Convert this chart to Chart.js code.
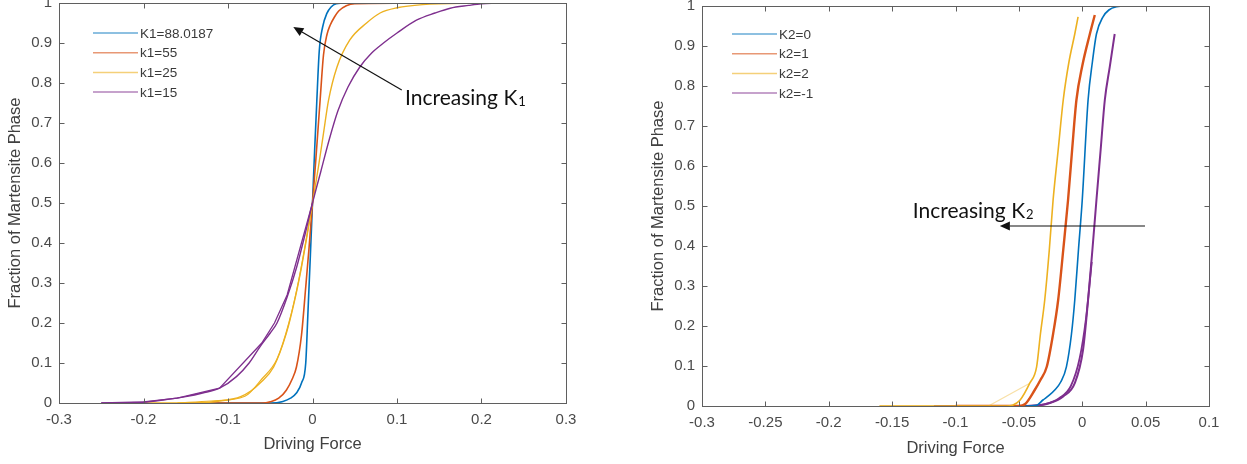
<!DOCTYPE html>
<html>
<head>
<meta charset="utf-8">
<script src="https://cdn.jsdelivr.net/npm/chart.js@4.4.1/dist/chart.umd.min.js"></script>
<style>
  html, body { margin: 0; padding: 0; background: #fff; }
  #wrap { position: relative; width: 1247px; height: 464px; overflow: hidden; }
  #c1 { position: absolute; left: 0; top: 0; }
  #c2 { position: absolute; left: 620px; top: 0; }
</style>
</head>
<body>
<div id="wrap">
  <canvas id="c1" width="620" height="464"></canvas>
  <canvas id="c2" width="627" height="464"></canvas>
</div>
<script>
// ---- data ----
const leftLabels = ["K1=88.0187", "k1=55", "k1=25", "k1=15"];
const rightLabels = ["K2=0", "k2=1", "k2=2", "k2=-1"];

// left panel (varying K1)
const k1aX = [-0.12, -0.05, -0.035, -0.026, -0.019, -0.013, -0.008, -0.0055, -0.0025, 0, 0.0025, 0.005, 0.008, 0.012, 0.017, 0.022, 0.028, 0.04, 0.12];
const k1aY = [0, 0, 0.004, 0.012, 0.025, 0.05, 0.1, 0.22, 0.37, 0.5, 0.63, 0.75, 0.88, 0.94, 0.974, 0.99, 0.998, 1, 1];

const k1bX = [-0.15, -0.06, -0.05, -0.04, -0.031, -0.024, -0.019, -0.013, -0.008, -0.004, 0, 0.004, 0.009, 0.013, 0.017, 0.021, 0.026, 0.031, 0.04, 0.05, 0.15];
const k1bY = [0, 0, 0.003, 0.012, 0.032, 0.06, 0.09, 0.17, 0.29, 0.39, 0.5, 0.61, 0.757, 0.87, 0.92, 0.945, 0.965, 0.98, 0.993, 0.998, 1];

const k1cX = [-0.2, -0.13, -0.11, -0.095, -0.085, -0.073, -0.062, -0.046, -0.031, -0.021, -0.013, -0.006, 0, 0.007, 0.013, 0.019, 0.029, 0.044, 0.064, 0.08, 0.1, 0.13, 0.2];
const k1cY = [0, 0.001, 0.005, 0.01, 0.016, 0.03, 0.05, 0.09, 0.174, 0.258, 0.34, 0.424, 0.5, 0.59, 0.674, 0.757, 0.84, 0.907, 0.95, 0.975, 0.988, 0.996, 1];
// second (coarse) yellow trace
const k1c2X = [-0.16, -0.12, -0.08, -0.06, -0.042, -0.028, -0.016, 0];
const k1c2Y = [0, 0.005, 0.017, 0.06, 0.11, 0.2, 0.31, 0.5];

const k1dX = [-0.25, -0.2, -0.175, -0.15, -0.13, -0.11, -0.09, -0.075, -0.062, -0.05, -0.042, -0.03, -0.0187, -0.009, 0, 0.01, 0.02, 0.03, 0.042, 0.056, 0.07, 0.084, 0.1, 0.123, 0.145, 0.163, 0.185, 0.2, 0.218];
const k1dY = [0, 0.002, 0.008, 0.016, 0.025, 0.037, 0.066, 0.1, 0.141, 0.175, 0.2, 0.265, 0.34, 0.42, 0.5, 0.58, 0.66, 0.73, 0.79, 0.84, 0.875, 0.9, 0.925, 0.957, 0.975, 0.987, 0.994, 0.998, 1];
// second (coarse) purple trace
const k1d2X = [-0.25, -0.2, -0.16, -0.11, -0.06, -0.045, -0.03, 0];
const k1d2Y = [0, 0.003, 0.012, 0.037, 0.15, 0.2, 0.27, 0.5];

// right panel (varying K2)
const k2aX = [-0.06, -0.045, -0.036, -0.031, -0.026, -0.0217, -0.017, -0.0125, -0.0085, -0.0059, -0.003, 0, 0.0046, 0.008, 0.0112, 0.0164, 0.021, 0.027, 0.035, 0.045, 0.0586];
const k2aY = [0, 0, 0.002, 0.015, 0.027, 0.04, 0.06, 0.098, 0.18, 0.265, 0.39, 0.515, 0.765, 0.86, 0.93, 0.973, 0.99, 0.998, 1, 1, 1];

const k2bX = [-0.1, -0.05, -0.045, -0.0375, -0.033, -0.028, -0.023, -0.019, -0.015, -0.0112, -0.008, -0.0046, 0, 0.006, 0.0099];
const k2bY = [0, 0, 0.005, 0.04, 0.065, 0.098, 0.18, 0.265, 0.39, 0.515, 0.64, 0.765, 0.85, 0.93, 0.9775];

const k2cX = [-0.16, -0.06, -0.055, -0.049, -0.0414, -0.036, -0.033, -0.0296, -0.026, -0.023, -0.019, -0.015, -0.0105, -0.0059, -0.0033];
const k2cY = [0, 0, 0.002, 0.015, 0.057, 0.098, 0.18, 0.265, 0.39, 0.515, 0.64, 0.765, 0.86, 0.93, 0.973];
// faint coarse yellow trace
const k2c2X = [-0.16, -0.074, -0.0414];
const k2c2Y = [0, 0, 0.057];

const k2dX = [-0.117, -0.045, -0.036, -0.0256, -0.015, -0.0059, 0.0006, 0.0046, 0.008, 0.0112, 0.0145, 0.0178, 0.0217, 0.0256];
const k2dY = [0, 0, 0.001, 0.0075, 0.024, 0.057, 0.14, 0.265, 0.39, 0.515, 0.64, 0.765, 0.848, 0.93];
// extra purple trace in the thick lower part
const k2d2X = [-0.045, -0.03, -0.018, -0.009, -0.002, 0.003, 0.0075];
const k2d2Y = [0, 0.004, 0.02, 0.05, 0.12, 0.22, 0.36];

const colors = ["#0072BD", "#D95319", "#EDB120", "#7E2F8E"];
const tickColor = "#4a4a4a";
const axisColor = "#5f5f5f";
const tickFont = { family: "Liberation Sans, Arial, sans-serif", size: 15 };
const titleFont = { family: "Liberation Sans, Arial, sans-serif", size: 16.5 };

function pts(xs, ys) {
  return xs.map((x, i) => ({ x, y: ys[i] }));
}

function line(xs, ys, color, width, smooth = true) {
  return {
    data: pts(xs, ys),
    borderColor: color,
    borderWidth: width,
    pointRadius: 0,
    fill: false,
    cubicInterpolationMode: smooth ? "monotone" : "default",
    tension: 0,
  };
}

// MATLAB-like tick text: 1, 0.9, -0.3, 0.05
function tickText(v) {
  return String(parseFloat(Number(v).toFixed(3)));
}

// box + inward ticks on all four sides, MATLAB style
const framePlugin = {
  id: "frame",
  afterDatasetsDraw(chart) {
    const { ctx, chartArea: a, scales: { x, y } } = chart;
    ctx.save();
    ctx.strokeStyle = axisColor;
    ctx.lineWidth = 1;
    const L = Math.round(a.left) + 0.5, R = Math.round(a.right) + 0.5;
    const T = Math.round(a.top) + 0.5, B = Math.round(a.bottom) + 0.5;
    ctx.strokeRect(L, T, R - L, B - T);
    ctx.beginPath();
    x.ticks.forEach((t) => {
      const px = Math.round(x.getPixelForValue(t.value)) + 0.5;
      ctx.moveTo(px, B); ctx.lineTo(px, B - 5);
      ctx.moveTo(px, T); ctx.lineTo(px, T + 5);
    });
    y.ticks.forEach((t) => {
      const py = Math.round(y.getPixelForValue(t.value)) + 0.5;
      ctx.moveTo(L, py); ctx.lineTo(L + 5, py);
      ctx.moveTo(R, py); ctx.lineTo(R - 5, py);
    });
    ctx.stroke();
    ctx.restore();
  },
};

// legend inside the axes, no box
const legendPlugin = {
  id: "boxLegend",
  afterDatasetsDraw(chart, args, opts) {
    const { ctx, chartArea: a } = chart;
    ctx.save();
    ctx.font = "13.5px Liberation Sans, Arial, sans-serif";
    ctx.textBaseline = "middle";
    opts.labels.forEach((lab, i) => {
      const yy = a.top + opts.dy + i * 19.7;
      ctx.strokeStyle = colors[i];
      ctx.globalAlpha = 0.6;
      ctx.lineWidth = 1.5;
      ctx.beginPath();
      ctx.moveTo(a.left + opts.dx, yy);
      ctx.lineTo(a.left + opts.dx + 45, yy);
      ctx.stroke();
      ctx.globalAlpha = 1;
      ctx.fillStyle = "#3a3a3a";
      ctx.fillText(lab, a.left + opts.dx + 47, yy + 1);
    });
    ctx.restore();
  },
};

// "Increasing K" text + arrow, placed in data coordinates
const notePlugin = {
  id: "note",
  afterDatasetsDraw(chart, args, o) {
    const { ctx, scales: { x, y } } = chart;
    ctx.save();
    const fam = "Lato, 'Open Sans', sans-serif";
    ctx.font = o.size + "px " + fam;
    ctx.fillStyle = "#111";
    ctx.textBaseline = "alphabetic";
    const tx = x.getPixelForValue(o.textAt[0]);
    const ty = y.getPixelForValue(o.textAt[1]);
    ctx.fillText("Increasing K", tx, ty);
    const w = ctx.measureText("Increasing K").width;
    ctx.font = Math.round(o.size * 0.62) + "px " + fam;
    ctx.fillText(o.sub, tx + w + 1, ty + 1);

    const x0 = x.getPixelForValue(o.from[0]), y0 = y.getPixelForValue(o.from[1]);
    const x1 = x.getPixelForValue(o.to[0]), y1 = y.getPixelForValue(o.to[1]);
    const ang = Math.atan2(y1 - y0, x1 - x0);
    const hl = 10, hw = 4.5;
    const bx = x1 - hl * Math.cos(ang), by = y1 - hl * Math.sin(ang);
    ctx.strokeStyle = "#111";
    ctx.lineWidth = 1.2;
    ctx.beginPath();
    ctx.moveTo(x0, y0);
    ctx.lineTo(bx, by);
    ctx.stroke();
    ctx.fillStyle = "#111";
    ctx.beginPath();
    ctx.moveTo(x1, y1);
    ctx.lineTo(bx + hw * Math.sin(ang), by - hw * Math.cos(ang));
    ctx.lineTo(bx - hw * Math.sin(ang), by + hw * Math.cos(ang));
    ctx.closePath();
    ctx.fill();
    ctx.restore();
  },
};

function scales(o) {
  return {
    x: {
      type: "linear",
      min: o.xMin,
      max: o.xMax,
      afterFit: (s) => { s.height = o.xAxisH; s.paddingLeft = 0; s.paddingRight = 0; },
      grid: { display: false, drawTicks: false },
      border: { display: false },
      ticks: { stepSize: o.xStep, padding: 8, color: tickColor, font: tickFont, maxRotation: 0, autoSkip: false, callback: tickText },
      title: { display: true, text: "Driving Force", color: "#404040", font: titleFont, padding: { top: 0, bottom: o.xTitlePad } },
    },
    y: {
      type: "linear",
      min: 0,
      max: 1,
      afterFit: (s) => { s.width = o.yAxisW; s.paddingTop = 0; s.paddingBottom = 0; },
      grid: { display: false, drawTicks: false },
      border: { display: false },
      ticks: { stepSize: 0.1, padding: 7, color: tickColor, font: tickFont, callback: tickText },
      title: { display: true, text: "Fraction of Martensite Phase", color: "#404040", font: titleFont, padding: { top: o.yTitlePad, bottom: 0 } },
    },
  };
}

Chart.defaults.animation = false;

new Chart(document.getElementById("c1"), {
  type: "line",
  data: {
    datasets: [
      line(k1d2X, k1d2Y, colors[3], 1.3, false),
      line(k1dX, k1dY, colors[3], 1.4),
      line(k1c2X, k1c2Y, colors[2], 1.2),
      line(k1cX, k1cY, colors[2], 1.4),
      line(k1bX, k1bY, colors[1], 1.6),
      line(k1aX, k1aY, colors[0], 1.6),
    ],
  },
  options: {
    responsive: false,
    layout: { padding: { left: 0, right: 54, top: 3, bottom: 0 } },
    scales: scales({ xMin: -0.3, xMax: 0.3, xStep: 0.1, xAxisH: 61, yAxisW: 59, xTitlePad: 10, yTitlePad: 6 }),
    plugins: {
      legend: { display: false },
      tooltip: { enabled: false },
      boxLegend: { labels: leftLabels, dx: 34, dy: 30 },
      note: { size: 21, sub: "1", textAt: [0.1095, 0.745], from: [0.1056, 0.7825], to: [-0.0227, 0.94] },
    },
  },
  plugins: [framePlugin, legendPlugin, notePlugin],
});

new Chart(document.getElementById("c2"), {
  type: "line",
  data: {
    datasets: [
      line(k2c2X, k2c2Y, "rgba(237,177,32,0.4)", 1.2, false),
      line(k2cX, k2cY, colors[2], 1.6),
      line(k2bX, k2bY, colors[1], 2.4),
      line(k2aX, k2aY, colors[0], 1.6),
      line(k2d2X, k2d2Y, colors[3], 1.8),
      line(k2dX, k2dY, colors[3], 2),
    ],
  },
  options: {
    responsive: false,
    layout: { padding: { left: 0, right: 38, top: 6, bottom: 0 } },
    scales: scales({ xMin: -0.3, xMax: 0.1, xStep: 0.05, xAxisH: 58, yAxisW: 82, xTitlePad: 6, yTitlePad: 29 }),
    plugins: {
      legend: { display: false },
      tooltip: { enabled: false },
      boxLegend: { labels: rightLabels, dx: 30, dy: 28 },
      note: { size: 21, sub: "2", textAt: [-0.1337, 0.47], from: [0.0495, 0.45], to: [-0.065, 0.45] },
    },
  },
  plugins: [framePlugin, legendPlugin, notePlugin],
});
</script>
</body>
</html>
